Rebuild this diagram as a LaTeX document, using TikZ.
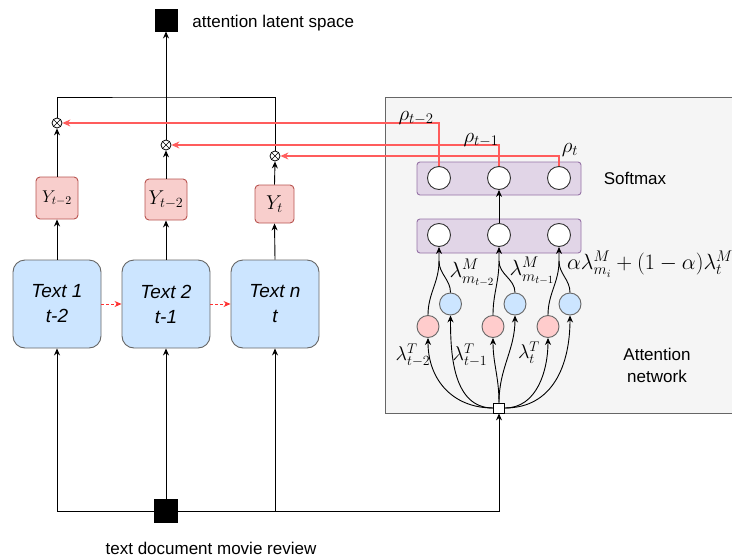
\RequirePackage{fix-cm}
\documentclass[tikz,border=0pt]{standalone}
\usepackage{fontspec}
\setmainfont{Liberation Sans}
\usetikzlibrary{arrows.meta,calc}
\definecolor{redl}{HTML}{FF5C5C}
\definecolor{tfill}{HTML}{CCE5FF}
\definecolor{yfill}{HTML}{F8CECC}
\definecolor{ydraw}{HTML}{B85450}
\definecolor{pfill}{HTML}{E1D5E7}
\definecolor{pdraw}{HTML}{9673A6}
\definecolor{pink}{HTML}{FFCCCC}
\definecolor{panel}{HTML}{F5F5F5}
\begin{document}
\begin{tikzpicture}[x=1pt,y=1pt,
  line width=0.9pt,
  arr/.style={-{Stealth[length=7pt,width=6pt]}, line width=0.9pt},
  rarr/.style={-{Stealth[length=8pt,width=7pt]}, draw=redl, line width=1.1pt},
  rdash/.style={-{Stealth[length=7pt,width=6pt]}, draw=red!80, dashed, dash pattern=on 3pt off 2pt, line width=0.9pt},
  blk/.style={draw=black, fill=black, minimum size=22pt, inner sep=0pt},
  otim/.style={circle, draw, fill=white, inner sep=0pt, minimum size=10pt, line width=0.8pt,
    path picture={\draw[line width=0.7pt] (path picture bounding box.north west) -- (path picture bounding box.south east)
      (path picture bounding box.north east) -- (path picture bounding box.south west);}},
  ybox/.style={draw=ydraw, fill=yfill, rounded corners=4pt, inner sep=0pt, font=\fontsize{18}{20}\selectfont},
  tbox/.style={draw=black!60, fill=tfill, rounded corners=12pt, minimum width=88pt, minimum height=88pt,
    align=center, font=\fontsize{19}{25}\selectfont\itshape},
  neuron/.style={circle, draw=black!80, fill=white, minimum size=23pt, inner sep=0pt},
  pn/.style={circle, draw=black!60, fill=pink, minimum size=22pt, inner sep=0pt},
  bn/.style={circle, draw=black!60, fill=tfill, minimum size=22pt, inner sep=0pt},
  lab/.style={font=\fontsize{17}{20}\selectfont, inner sep=0pt},
  mlab/.style={font=\fontsize{20}{22}\selectfont, inner sep=0pt}
]
\useasboundingbox (0,0) rectangle (732,-560);

% attention panel
\draw[draw=black!60, fill=panel, line width=0.8pt] (385,-97) rectangle (740,-413);
\node[draw=pdraw, fill=pfill, rounded corners=3pt, minimum width=164pt, minimum height=33pt, inner sep=0pt] (smbox) at (499,-178.5) {};
\node[draw=pdraw, fill=pfill, rounded corners=3pt, minimum width=164pt, minimum height=34pt, inner sep=0pt] (lobox) at (499,-236) {};

% output
\node[blk] (out) at (166,-20) {};
\node[lab, anchor=west] (outl) at (192,-23) {attention latent space};
\coordinate (top) at (166,-97);

% otimes
\node[otim] (ox1) at (57,-123) {};
\node[otim] (ox2) at (166,-145) {};
\node[otim] (ox3) at (275,-156) {};

% Y boxes
\node[ybox, minimum width=42pt, minimum height=42pt, font=\fontsize{17}{20}\selectfont] (y1) at (57,-198) {$Y_{t-2}$};
\node[ybox, minimum width=42pt, minimum height=41pt, font=\fontsize{20}{22}\selectfont] (y2) at (166,-199.5) {$Y_{t-2}$};
\node[ybox, minimum width=39pt, minimum height=38pt, font=\fontsize{20}{22}\selectfont] (y3) at (274.5,-204) {$Y_{t}$};

% text boxes
\node[tbox] (t1) at (57,-304) {Text 1\\t-2};
\node[tbox] (t2) at (166,-304) {Text 2\\t-1};
\node[tbox] (t3) at (275,-304) {Text n\\t};

% input
\node[blk, minimum size=23pt] (in) at (166,-511) {};
\node[lab] (inl) at (211,-548) {text document movie review};
\coordinate (j3) at (275,-511);

% softmax and lower neurons
\node[neuron] (s1) at (439,-178) {};
\node[neuron] (s2) at (499,-178) {};
\node[neuron] (s3) at (559,-178) {};
\node[neuron] (l1) at (439,-235) {};
\node[neuron] (l2) at (499,-235) {};
\node[neuron] (l3) at (559,-235) {};
\node[lab] (smt) at (635,-178) {Softmax};

% attention neurons
\node[pn] (p1) at (428,-326.5) {};
\node[pn] (p2) at (493,-326.5) {};
\node[pn] (p3) at (548,-326.5) {};
\node[bn] (b1) at (450.5,-304) {};
\node[bn] (b2) at (515,-304) {};
\node[bn] (b3) at (570,-304) {};
\node[draw=black, fill=white, minimum width=11pt, minimum height=10pt, inner sep=0pt, line width=0.8pt] (sq) at (499,-408) {};
\node[lab, align=center, font=\fontsize{17}{22}\selectfont] (attn) at (657,-365) {Attention\\network};

% merge points
\coordinate (m1) at ($(l1.south)+(0,-14)$);
\coordinate (m2) at ($(l2.south)+(0,-14)$);
\coordinate (m3) at ($(l3.south)+(0,-14)$);

% connectors: top
\draw (ox1.north) |- (top) -| (ox3.north);
\draw[arr] (ox2.north) -- (out.south);
\draw[arr] (y1.north) -- (ox1.south);
\draw[arr] (y2.north) -- (ox2.south);
\draw[arr] (y3.north) -- (ox3.south);
\draw[arr] (t1.north) -- (y1.south);
\draw[arr] (t2.north) -- (y2.south);
\draw[arr] (t3.north) -- (y3.south);
\draw[rdash] (t1.east) -- (t2.west);
\draw[rdash] (t2.east) -- (t3.west);

% input connectors
\draw[arr] (in.west) -| (t1.south);
\draw[arr] (in.north) -- (t2.south);
\draw (in.east) -- (j3);
\draw[arr] (j3) -- (t3.south);
\draw[arr] (j3) -| (sq.south);

% red attention weights
\draw[rarr] (s1.north) |- (ox1.east);
\draw[rarr] (s2.north) |- (ox2.east);
\draw[rarr] (s3.north) |- (ox3.east);
\node[mlab, font=\fontsize{21}{22}\selectfont] (r1) at (416,-118) {$\rho_{t-2}$};
\node[mlab, font=\fontsize{21}{22}\selectfont] (r2) at (481,-140) {$\rho_{t-1}$};
\node[mlab, font=\fontsize{21}{22}\selectfont] (r3) at (570,-150) {$\rho_{t}$};

% lower box to softmax
\draw[arr] (l2.north) -- (s2.south);

% neurons to lower box
\draw[arr] (p1.north) to[out=90,in=-90] (m1) -- (l1.south);
\draw (b1.north) to[out=90,in=-90] (m1);
\draw[arr] (p2.north) to[out=90,in=-90] (m2) -- (l2.south);
\draw (b2.north) to[out=90,in=-90] (m2);
\draw[arr] (p3.north) to[out=90,in=-90] (m3) -- (l3.south);
\draw (b3.north) to[out=90,in=-90] (m3);

% square to neurons
\draw[arr] (sq.west) to[out=180,in=-90, looseness=1.1] (p1.south);
\draw[arr] (sq.west) to[out=180,in=-90, looseness=1.0] (b1.south);
\draw[arr] (sq.north) to[out=90,in=-90] (p2.south);
\draw[arr] (sq.north) to[out=90,in=-90] (b2.south);
\draw[arr] (sq.east) to[out=0,in=-90, looseness=1.0] (p3.south);
\draw[arr] (sq.east) to[out=0,in=-90, looseness=1.1] (b3.south);

% lambda labels
\node[mlab] (lt1) at (413,-355) {$\lambda^{T}_{t-2}$};
\node[mlab] (lt2) at (470,-355) {$\lambda^{T}_{t-1}$};
\node[mlab] (lt3) at (529,-353) {$\lambda^{T}_{t}$};
\node[mlab, font=\fontsize{22}{22}\selectfont] (lm1) at (472,-273) {$\lambda^{M}_{m_{t-2}}$};
\node[mlab, font=\fontsize{22}{22}\selectfont] (lm2) at (532,-271) {$\lambda^{M}_{m_{t-1}}$};
\node[mlab, font=\fontsize{22}{24}\selectfont] (lmx) at (650,-264) {$\alpha\lambda^{M}_{m_i}+(1-\alpha)\lambda^{M}_{t}$};
\end{tikzpicture}
\end{document}
